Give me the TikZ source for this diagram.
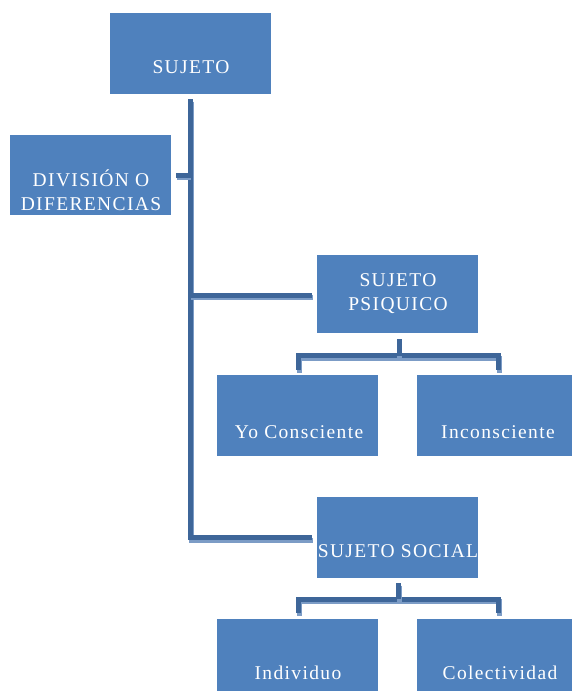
\documentclass[tikz,border=0pt]{standalone}
\usepackage{fontspec}
\setmainfont[LetterSpace=7]{Liberation Serif}
\definecolor{boxc}{HTML}{4F81BD}
\definecolor{linec}{HTML}{3E6699}
\definecolor{shadc}{HTML}{7C9CC6}
\tikzset{
  box/.style={rectangle, fill=boxc, draw=none, anchor=north west, minimum width=161pt, inner sep=0pt},
  txt/.style={text=white, font=\fontsize{19.5}{24}\selectfont, align=center, inner sep=0pt},
  conn/.style={draw=linec, line width=5pt, line cap=butt, line join=miter,
    preaction={draw=shadc, line width=5pt, transform canvas={shift={(0.5pt,-2.5pt)}}}},
}
\begin{document}
\begin{tikzpicture}[x=1pt,y=-1pt]
\clip (0,0) rectangle (572,691);
\useasboundingbox (0,0) rectangle (572,691);
% boxes
\node[box, minimum height=81pt] (sujeto) at (110,13) {};
\node[box, minimum height=80pt] (division) at (10,135) {};
\node[box, minimum height=78pt] (psiq) at (317,255) {};
\node[box, minimum height=81pt] (yo) at (217,375) {};
\node[box, minimum height=81pt] (incons) at (417,375) {};
\node[box, minimum height=81pt] (social) at (317,497) {};
\node[box, minimum height=81pt] (indiv) at (217,619) {};
\node[box, minimum height=81pt] (colect) at (417,619) {};
% texts
\node[txt] (tsujeto) at (191,67) {SUJETO};
\node[txt] (tdivision) at (91,190) {DIVISIÓN O\\DIFERENCIAS};
\node[txt] (tpsiq) at (398,294) {SUJETO\\PSIQUICO};
\node[txt] (tyo) at (299,432) {Yo Consciente};
\node[txt] (tincons) at (498,432) {Inconsciente};
\node[txt] (tsocial) at (398,551) {SUJETO SOCIAL};
\node[txt] (tindiv) at (298,673) {Individuo};
\node[txt] (tcolect) at (500,673) {Colectividad};
% junction coordinates
\coordinate (vtop) at (190.5,99);
\coordinate (vdiv) at (190.5,175);
\coordinate (vpsi) at (190.5,295);
\coordinate (vbot) at (190.5,537.5);
\coordinate (divend) at (176,175);
\coordinate (psiend) at (312,295);
\coordinate (socend) at (312,537.5);
% main trunk
\draw[conn] (vtop) -- (vbot) -- (socend);
\draw[conn] (vdiv) -- (divend);
\draw[conn] (vpsi) -- (psiend);
% psiquico group
\coordinate (p1) at (399,339);
\coordinate (p2) at (399,355.5);
\coordinate (pl) at (298.5,355.5);
\coordinate (pr) at (498.5,355.5);
\coordinate (pld) at (298.5,370);
\coordinate (prd) at (498.5,370);
\draw[conn] (pld) -- (pl) -- (pr) -- (prd);
\draw[conn] (p1) -- (p2);
% social group
\coordinate (s1) at (398.5,583);
\coordinate (s2) at (398.5,599);
\coordinate (sl) at (298.5,599);
\coordinate (sr) at (498.5,599);
\coordinate (sld) at (298.5,613);
\coordinate (srd) at (498.5,613);
\draw[conn] (sld) -- (sl) -- (sr) -- (srd);
\draw[conn] (s1) -- (s2);
\end{tikzpicture}
\end{document}
